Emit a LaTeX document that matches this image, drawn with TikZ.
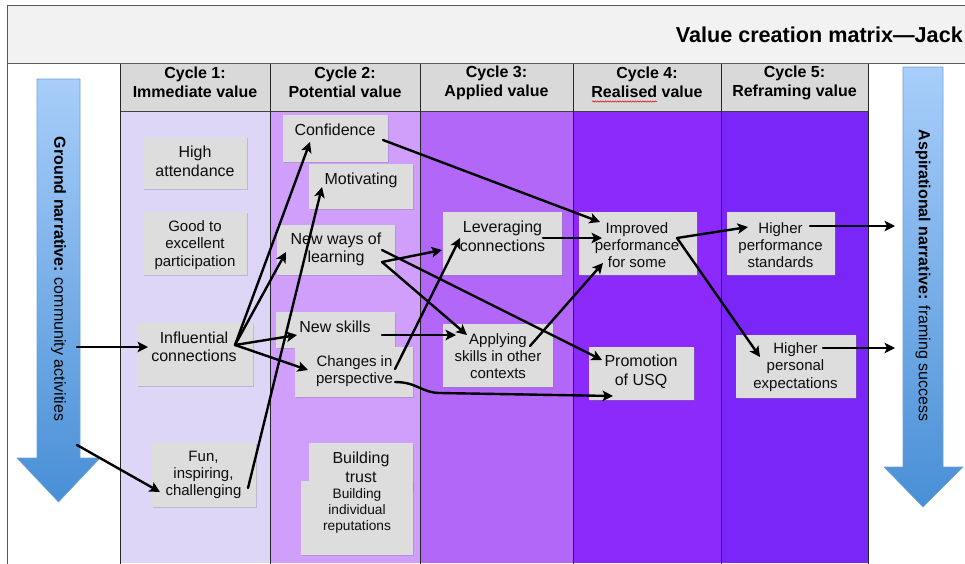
\documentclass[tikz,border=0pt]{standalone}
\usepackage{fontspec}
\setmainfont{Liberation Sans}
\usetikzlibrary{arrows.meta,calc,shadows,positioning,decorations.pathmorphing}
\definecolor{titlegray}{RGB}{242,242,242}
\definecolor{headgray}{RGB}{217,217,217}
\definecolor{boxgray}{RGB}{221,221,221}
\definecolor{cycA}{RGB}{222,214,247}
\definecolor{cycB}{RGB}{208,158,251}
\definecolor{cycC}{RGB}{178,103,249}
\definecolor{cycD}{RGB}{139,42,250}
\definecolor{cycE}{RGB}{122,38,249}
\definecolor{bluetop}{RGB}{168,206,250}
\definecolor{bluebot}{RGB}{72,143,214}
\definecolor{blueedge}{RGB}{112,160,214}

\begin{document}
\begin{tikzpicture}[x=1pt,y=-1pt,line cap=round,line join=round,>={Stealth[length=10.5pt,width=10.5pt,inset=2.5pt]},
  cell/.style={fill=boxgray,inner sep=0pt,anchor=north west,drop shadow={shadow xshift=1.2pt,shadow yshift=-1.2pt,opacity=0.35}},
  lbl/.style={align=center,inner sep=0pt,text=black!95,font=\fontsize{15}{17.3}\selectfont},
  big/.style={lbl,font=\fontsize{16}{18.5}\selectfont},
  head/.style={align=center,inner sep=0pt,font=\fontsize{16}{19}\selectfont\bfseries},
  link/.style={->,line width=2.4pt}]
\clip (0,0) rectangle (965,563);
% columns
\fill[cycA] (120,111) rectangle (270,563);
\fill[cycB] (270,111) rectangle (420,563);
\fill[cycC] (420,111) rectangle (573,563);
\fill[cycD] (573,111) rectangle (721,563);
\fill[cycE] (721,111) rectangle (868,563);
\draw[black!75,fill=headgray,line width=0.7pt] (120,63) rectangle (868,111);
\foreach \x in {120,270,420,573,721,868}
  \draw[black!85,line width=0.6pt] (\x,63) -- (\x,570);
\draw[black!65,fill=titlegray,line width=0.8pt] (7,5) rectangle (975,63);
\draw[black!65,line width=0.8pt] (7,63) -- (7,570);
\node[font=\fontsize{21.6}{25}\selectfont\bfseries,anchor=east,inner sep=0pt] (title) at (963,35) {Value creation matrix—Jack};
\foreach \x/\a/\b [count=\i] in {195/Cycle 1:/Immediate value,345/Cycle 2:/Potential value,496.5/Cycle 3:/Applied value,647/Cycle 4:/Realised value,794.5/Cycle 5:/Reframing value}
  \node[head] (hd\i) at (\x,82.5) {\a\\\b};
\draw[red!85!black,line width=0.5pt,decorate,decoration={snake,amplitude=0.7pt,segment length=2.5pt}] (592,101.5) -- (657,101.5);
% narratives
\shadedraw[top color=bluetop,bottom color=bluebot,draw=blueedge,line width=0.6pt] (37,79) -- (80,79) -- (80,458) -- (100,458) -- (58.5,502) -- (17,458) -- (37,458) -- cycle;
\shadedraw[top color=bluetop,bottom color=bluebot,draw=blueedge,line width=0.6pt] (903,67) -- (943,67) -- (943,467) -- (963,467) -- (923,507) -- (884,467) -- (903,467) -- cycle;
\node[rotate=-90,inner sep=0pt,font=\fontsize{16}{18}\selectfont] (gnd) at (58.5,279) {\textbf{Ground narrative:} community activities};
\node[rotate=-90,inner sep=0pt,font=\fontsize{16}{18}\selectfont] (asp) at (923,275.5) {\textbf{Aspirational narrative:} framing success};
\coordinate (gnd-a) at (77,347);
\coordinate (gnd-b) at (77,445);
\coordinate (asp-a) at (895,226);
\coordinate (asp-b) at (895,348);
% boxes
\node[cell,minimum width=104,minimum height=52] (high) at (143,137) {};
\node[cell,minimum width=104,minimum height=63] (good) at (143,212) {};
\node[cell,minimum width=116,minimum height=63] (infl) at (137,323) {};
\node[cell,minimum width=104,minimum height=64] (fun) at (152,443) {};
\node[cell,minimum width=105,minimum height=47] (conf) at (283,115) {};
\node[cell,minimum width=104,minimum height=45] (motiv) at (309,164) {};
\node[cell,minimum width=118,minimum height=50] (neww) at (277,225) {};
\node[cell,minimum width=119,minimum height=36] (skills) at (276,312) {};
\node[cell,minimum width=118,minimum height=50] (chg) at (295,347) {};
\node[cell,minimum width=104,minimum height=48] (trust) at (309,443) {};
\node[cell,minimum width=112,minimum height=74] (rep) at (301,481) {};
\node[cell,minimum width=119,minimum height=63] (lev) at (443,212) {};
\node[cell,minimum width=110,minimum height=63] (appl) at (443,324) {};
\node[cell,minimum width=118,minimum height=63] (impr) at (579,212) {};
\node[cell,minimum width=105,minimum height=53] (promo) at (589,347) {};
\node[cell,minimum width=108,minimum height=63] (hps) at (727,212) {};
\node[cell,minimum width=120,minimum height=63] (hpe) at (736,335) {};
% texts
\node[big] (high-t) at (195,161.5) {High\\attendance};
\node[lbl] (good-t) at (195,245) {Good to\\excellent\\participation};
\node[big] (infl-t) at (194,347) {Influential\\connections};
\node[lbl] (fun-t) at (203.5,475) {Fun,\\inspiring,\\challenging};
\node[big] (conf-t) at (335,130) {Confidence};
\node[big] (motiv-t) at (361,180) {Motivating};
\node[big] (neww-t) at (336,249.5) {New ways of\\learning};
\node[big] (skills-t) at (335,327) {New skills};
\node[lbl] (chg-t) at (354.5,371) {Changes in\\perspective};
\node[big] (trust-t) at (361,467.5) {Building\\trust};
\node[lbl,font=\fontsize{13.7}{16}\selectfont] (rep-t) at (357,511) {Building\\individual\\reputations};
\node[big] (lev-t) at (502.5,236.5) {Leveraging\\connections};
\node[lbl] (appl-t) at (498,356) {Applying\\skills in other\\contexts};
\node[lbl] (impr-t) at (637,245) {Improved\\performance\\for some};
\node[big] (promo-t) at (641,371.5) {Promotion\\of USQ};
\node[lbl] (hps-t) at (780.5,245) {Higher\\performance\\standards};
\node[lbl] (hpe-t) at (795.5,367) {Higher\\personal\\expectations};
% links
\coordinate (infl-o) at ([shift={(98,22)}]infl.north west);
\coordinate (neww-o) at ([shift={(105,37)}]neww.north west);
\coordinate (impr-o) at ([shift={(98,26)}]impr.north west);
\draw[link] (gnd-a) -- ([shift={(11,24)}]infl.north west);
\draw[link] (gnd-b) -- ([shift={(8,49)}]fun.north west);
\draw[link] (infl-o) -- ([shift={(27,27)}]conf.north west);
\draw[link] (infl-o) -- ([shift={(9,27)}]neww.north west);
\draw[link] (infl-o) -- ([shift={(21,23)}]skills.north west);
\draw[link] (infl-o) -- ([shift={(13,23)}]chg.north west);
\draw[link] ([shift={(96,45)}]fun.north west) -- ([shift={(13,23)}]motiv.north west);
\draw[link] ([shift={(100,25)}]conf.north west) -- ([shift={(21,10)}]impr.north west);
\draw[link] (neww-o) -- ([shift={(-1,38)}]lev.north west);
\draw[link] (neww-o) -- ([shift={(24,11)}]appl.north west);
\draw[link] ([shift={(105,25)}]neww.north west) -- ([shift={(13,13)}]promo.north west);
\draw[link] ([shift={(106,23)}]skills.north west) -- ([shift={(13,11)}]appl.north west);
\draw[link] ([shift={(100,22)}]chg.north west) -- ([shift={(17,26)}]lev.north west);
\draw[link] ([shift={(100,35)}]chg.north west) .. controls +(22,0) and +(-18,0) .. +(45,11) -- ([shift={(24,49)}]promo.north west);
\draw[link] ([shift={(100,26)}]lev.north west) -- ([shift={(23,26)}]impr.north west);
\draw[link] ([shift={(87,22)}]appl.north west) -- ([shift={(24,51)}]impr.north west);
\draw[link] (impr-o) -- ([shift={(21,15)}]hps.north west);
\draw[link] (impr-o) -- ([shift={(24,22)}]hpe.north west);
\draw[link] ([shift={(83,14)}]hps.north west) -- (asp-a);
\draw[link] ([shift={(87,13)}]hpe.north west) -- (asp-b);
\end{tikzpicture}
\end{document}
